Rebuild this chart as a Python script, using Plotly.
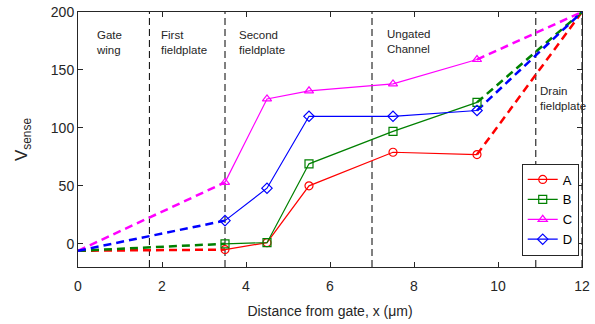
import plotly.graph_objects as go

x_meas = [3.5, 4.5, 5.5, 7.5, 9.5]
series_names = ["A", "B", "C", "D"]
A_vals = [-5, 1, 50, 79, 77]
B_vals = [0, 1, 69, 97, 122]
C_vals = [53, 125, 132, 138, 159]
D_vals = [20, 48, 110, 110, 115]
x_start = 0
y_start = [-6, -6, -6, -6]
x_end = 12
y_end = [200, 200, 200, 200]
region_bounds = [1.7, 3.5, 7, 10.9, 12]
region_labels = ["Gate<br>wing", "First<br>fieldplate", "Second<br>fieldplate", "Ungated<br>Channel", "Drain<br>fieldplate"]
region_label_x = [0.38, 1.93, 3.78, 7.3, 10.95]
region_label_y = [0.94, 0.94, 0.94, 0.945, 0.72]

colors = ["#FF0000", "#008000", "#FF00FF", "#0000FF"]
symbols = ["circle-open", "square-open", "triangle-up-open", "diamond-open"]
all_vals = [A_vals, B_vals, C_vals, D_vals]

FONT = "Liberation Sans, Arial, sans-serif"
fig = go.Figure()

for i, (name, vals) in enumerate(zip(series_names, all_vals)):
    fig.add_trace(go.Scatter(
        x=[x_start, x_meas[0]], y=[y_start[i], vals[0]], mode="lines",
        line=dict(color=colors[i], width=2.5, dash="8px,5px"), showlegend=False, hoverinfo="skip"))
    fig.add_trace(go.Scatter(
        x=[x_meas[-1], x_end], y=[vals[-1], y_end[i]], mode="lines",
        line=dict(color=colors[i], width=2.5, dash="8px,5px"), showlegend=False, hoverinfo="skip"))

for i, (name, vals) in enumerate(zip(series_names, all_vals)):
    fig.add_trace(go.Scatter(
        x=x_meas, y=vals, mode="lines+markers", name=name,
        line=dict(color=colors[i], width=1.2),
        marker=dict(symbol=symbols[i], size=8, color=colors[i], line=dict(width=1.2, color=colors[i]))))

for xb in region_bounds:
    fig.add_shape(type="line", x0=xb, x1=xb, y0=0, y1=1, xref="x", yref="paper",
                  line=dict(color="black", width=1, dash="7px,4px"), layer="below")

for lab, lx, ly in zip(region_labels, region_label_x, region_label_y):
    fig.add_annotation(x=lx, y=ly, xref="x", yref="paper", text=lab, showarrow=False,
                       xanchor="left", yanchor="top", align="left",
                       font=dict(family=FONT, size=11.5, color="#262626"))

axis_common = dict(showline=True, mirror="ticks", linecolor="#262626", linewidth=1,
                   ticks="inside", ticklen=5, tickcolor="#262626", showgrid=False, zeroline=False,
                   automargin=False,
                   tickfont=dict(family=FONT, size=14, color="#262626"))

fig.update_layout(
    width=595, height=324,
    margin=dict(l=78, r=13, t=12, b=57, autoexpand=False),
    plot_bgcolor="white", paper_bgcolor="white",
    xaxis=dict(range=[0, 12], tickvals=[0, 2, 4, 6, 8, 10, 12], ticklabelstandoff=6,
               title=dict(text="Distance from gate, x (μm)", font=dict(family=FONT, size=14, color="#262626"), standoff=13),
               **axis_common),
    yaxis=dict(range=[-20, 200], tickvals=[0, 50, 100, 150, 200],
               title=dict(text="V<sub>sense</sub>", font=dict(family=FONT, size=17, color="#262626"), standoff=18),
               **axis_common),
    legend=dict(x=0.9935, y=0.045, xanchor="right", yanchor="bottom",
                bordercolor="#262626", borderwidth=1, bgcolor="white",
                font=dict(family=FONT, size=13, color="black"), tracegroupgap=0, itemwidth=30),
    showlegend=True,
)

fig.write_html("out.html")
